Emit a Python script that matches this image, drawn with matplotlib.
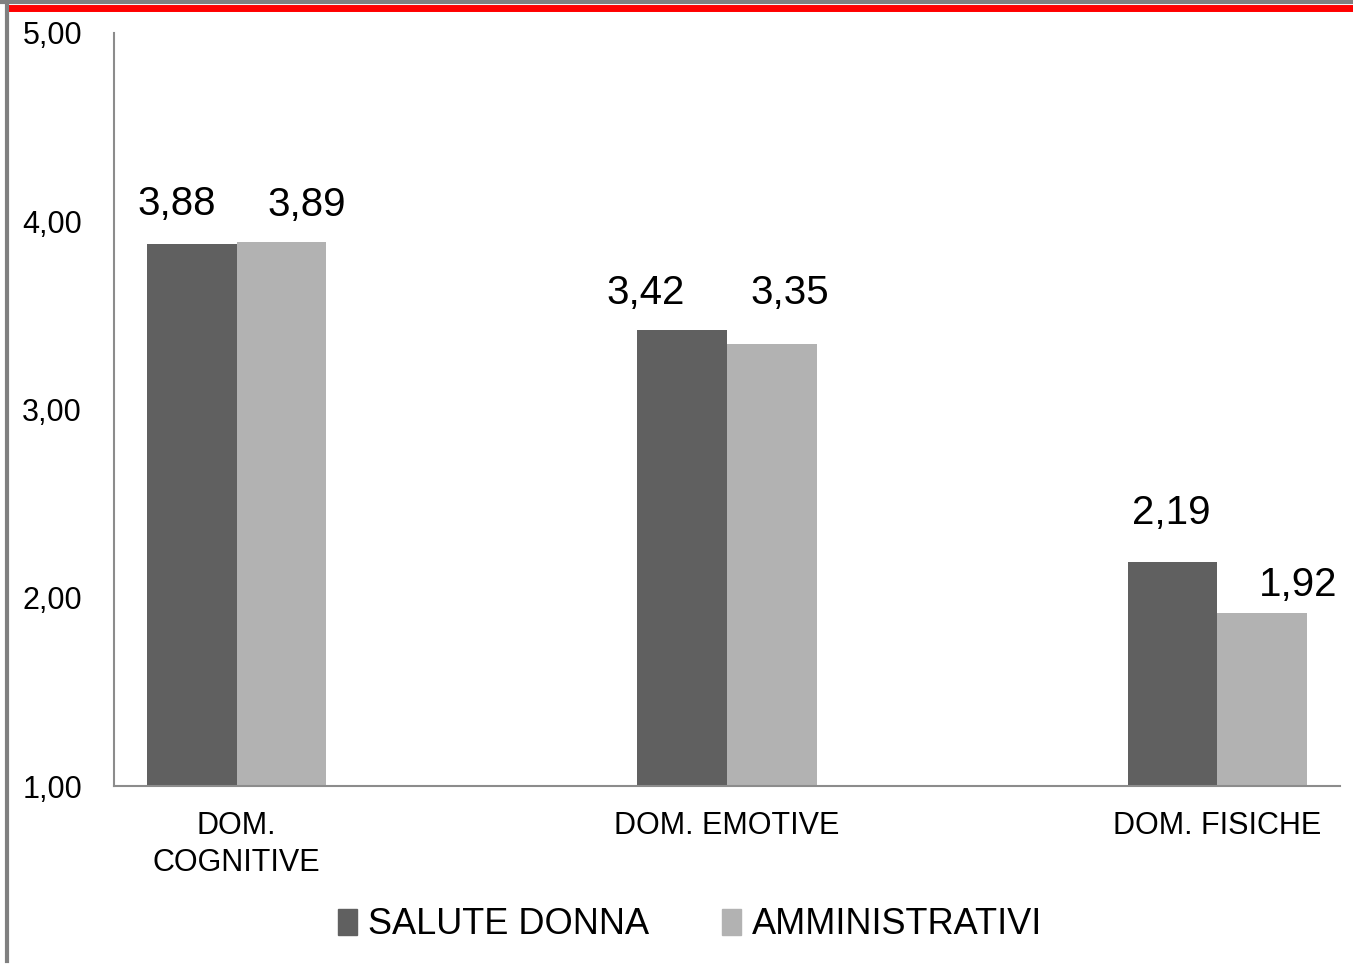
import matplotlib
matplotlib.use("Agg")
import matplotlib.pyplot as plt
from matplotlib.lines import Line2D
from matplotlib.patches import Patch
import numpy as np

plt.rcParams['font.family'] = ['Liberation Sans', 'DejaVu Sans']

categories = ['DOM.\nCOGNITIVE', 'DOM. EMOTIVE', 'DOM. FISICHE']
salute_donna = [3.88, 3.42, 2.19]
amministrativi = [3.89, 3.35, 1.92]
series_names = ['SALUTE DONNA', 'AMMINISTRATIVI']
yticks = [1, 2, 3, 4, 5]

dark = '#606060'
light = '#b2b2b2'

fig = plt.figure(figsize=(13.53, 9.65), dpi=100)
ax = fig.add_axes([114 / 1353, 1 - 786 / 965, 1226 / 1353, 753 / 965])

x = np.arange(len(categories))
w = 0.183
b1 = ax.bar(x - w / 2, np.array(salute_donna) - 1, w, bottom=1, color=dark)
b2 = ax.bar(x + w / 2, np.array(amministrativi) - 1, w, bottom=1, color=light)

ax.set_xlim(-0.25, 2.25)
ax.set_ylim(1, 5)
ax.set_yticks(yticks)
ax.set_yticklabels([f'{v:.2f}'.replace('.', ',') for v in yticks], fontsize=22)
for lab in ax.get_yticklabels():
    lab.set_horizontalalignment('left')
ax.tick_params(axis='y', length=0, pad=66)
ax.set_xticks(x)
ax.set_xticklabels(categories, fontsize=22, linespacing=1.3)
ax.tick_params(axis='x', length=0, pad=18)

for s in ['top', 'right']:
    ax.spines[s].set_visible(False)
for s in ['left', 'bottom']:
    ax.spines[s].set_color('#8c8c8c')
    ax.spines[s].set_linewidth(1.5)

# value labels (offsets in points, as placed in the original)
off1 = [(-11, 15), (-26, 13), (-1, 21.5)]
off2 = [(18, 13), (13, 23), (26, 6)]
for bars, vals, offs in [(b1, salute_donna, off1), (b2, amministrativi, off2)]:
    for r, v, o in zip(bars, vals, offs):
        ax.annotate(f'{v:.2f}'.replace('.', ','),
                    (r.get_x() + r.get_width() / 2, v),
                    xytext=o, textcoords='offset points',
                    ha='center', va='bottom', fontsize=29)

handles = [Patch(color=dark), Patch(color=light)]
fig.legend(handles, series_names, loc='center', bbox_to_anchor=(690 / 1353, 1 - 925 / 965),
           ncol=2, frameon=False, fontsize=26, handlelength=0.55, handleheight=0.7,
           handletextpad=0.3, columnspacing=2.0)

# frame lines at the edge of the picture
fig.add_artist(Line2D([0, 1], [1 - 2 / 965, 1 - 2 / 965], color='#808080', lw=3,
                      transform=fig.transFigure))
fig.add_artist(Line2D([8 / 1353, 1], [1 - 8 / 965, 1 - 8 / 965], color='#ff0000', lw=5,
                      transform=fig.transFigure))
fig.add_artist(Line2D([6.5 / 1353, 6.5 / 1353], [0.004, 1], color='#808080', lw=3,
                      transform=fig.transFigure))

fig.savefig('out.png', dpi=100, facecolor='white')
